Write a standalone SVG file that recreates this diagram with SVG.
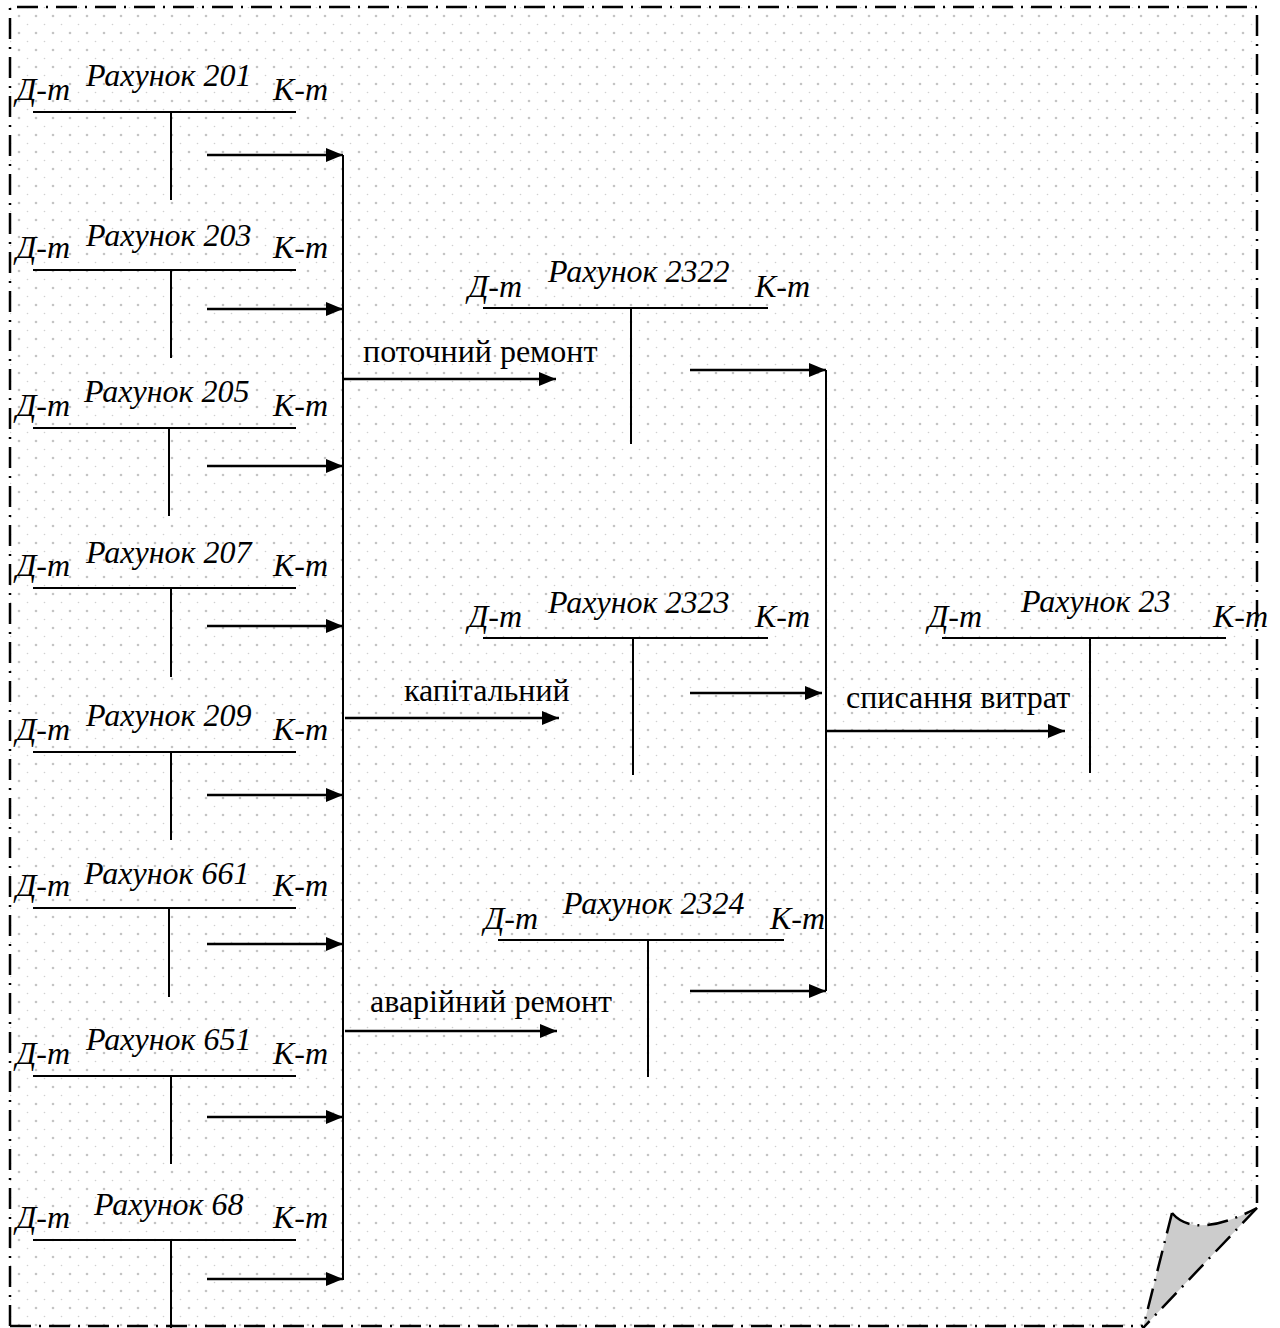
<svg xmlns="http://www.w3.org/2000/svg" width="1280" height="1328" viewBox="0 0 1280 1328">
  <style>
    .ln { stroke: #000; stroke-width: 2; fill: none; }
    .arr { stroke: #000; stroke-width: 2.5; fill: none; marker-end: url(#ah); }
    .acc { font-family: "Liberation Serif", "Times New Roman", serif; font-style: italic; font-size: 32px; fill: #000; }
    .lbl { font-family: "Liberation Serif", "Times New Roman", serif; font-size: 32px; fill: #000; }
    .frame { stroke: #000; stroke-width: 2.5; fill: none; stroke-dasharray: 21 8 2 8; }
  </style>
  <defs>
    <pattern id="dots" patternUnits="userSpaceOnUse" x="15" y="12" width="17" height="17">
      <circle cx="4" cy="4" r="1.3" fill="#c4c4c4"/>
      <circle cx="12.5" cy="12.5" r="0.8" fill="#d0d0d0"/>
    </pattern>
    <marker id="ah" markerUnits="userSpaceOnUse" markerWidth="18" markerHeight="14" refX="17" refY="7" orient="auto">
      <path d="M0,0 L17,7 L0,14 z" fill="#000"/>
    </marker>
  </defs>

  <!-- page background with dotted grid and curled corner -->
  <rect width="1280" height="1328" fill="#fff"/>
  <path d="M10,7 H1257 V1208 L1143,1328 H10 Z" fill="url(#dots)"/>
  <path d="M1172,1213 Q1195,1240 1257,1208 L1143,1328 Z" fill="#cccccc"/>
  <g id="frame">
    <path class="frame" d="M10,1326 V7 H1257 V1203"/>
    <path class="frame" d="M10,1326 H1143"/>
    <path class="frame" d="M1257,1208 L1143,1328"/>
    <path class="frame" d="M1172,1213 L1143,1328"/>
    <path class="frame" d="M1172,1213 Q1195,1240 1257,1208"/>
  </g>

  <!-- left column of T-accounts -->
  <g id="acc201">
    <text class="acc" x="16" y="100">Д-т</text>
    <text class="acc" x="86" y="86">Рахунок 201</text>
    <text class="acc" x="273" y="100">К-т</text>
    <path class="ln" d="M33,112 H296 M171,112 V200"/>
  </g>
  <g id="acc203">
    <text class="acc" x="16" y="258">Д-т</text>
    <text class="acc" x="86" y="246">Рахунок 203</text>
    <text class="acc" x="273" y="258">К-т</text>
    <path class="ln" d="M33,270 H296 M171,270 V358"/>
  </g>
  <g id="acc205">
    <text class="acc" x="16" y="416">Д-т</text>
    <text class="acc" x="84" y="402">Рахунок 205</text>
    <text class="acc" x="273" y="416">К-т</text>
    <path class="ln" d="M33,428 H296 M169,428 V516"/>
  </g>
  <g id="acc207">
    <text class="acc" x="16" y="576">Д-т</text>
    <text class="acc" x="86" y="563">Рахунок 207</text>
    <text class="acc" x="273" y="576">К-т</text>
    <path class="ln" d="M33,588 H296 M171,588 V677"/>
  </g>
  <g id="acc209">
    <text class="acc" x="16" y="740">Д-т</text>
    <text class="acc" x="86" y="726">Рахунок 209</text>
    <text class="acc" x="273" y="740">К-т</text>
    <path class="ln" d="M33,752 H296 M171,752 V840"/>
  </g>
  <g id="acc661">
    <text class="acc" x="16" y="896">Д-т</text>
    <text class="acc" x="84" y="884">Рахунок 661</text>
    <text class="acc" x="273" y="896">К-т</text>
    <path class="ln" d="M33,908 H296 M169,908 V997"/>
  </g>
  <g id="acc651">
    <text class="acc" x="16" y="1064">Д-т</text>
    <text class="acc" x="86" y="1050">Рахунок 651</text>
    <text class="acc" x="273" y="1064">К-т</text>
    <path class="ln" d="M33,1076 H296 M171,1076 V1164"/>
  </g>
  <g id="acc68">
    <text class="acc" x="16" y="1228">Д-т</text>
    <text class="acc" x="94" y="1215">Рахунок 68</text>
    <text class="acc" x="273" y="1228">К-т</text>
    <path class="ln" d="M33,1240 H296 M171,1240 V1328"/>
  </g>

  <!-- middle column of T-accounts -->
  <g id="acc2322">
    <text class="acc" x="468" y="297">Д-т</text>
    <text class="acc" x="548" y="282">Рахунок 2322</text>
    <text class="acc" x="755" y="297">К-т</text>
    <path class="ln" d="M483,308 H768 M631,308 V444"/>
  </g>
  <g id="acc2323">
    <text class="acc" x="468" y="627">Д-т</text>
    <text class="acc" x="548" y="613">Рахунок 2323</text>
    <text class="acc" x="755" y="627">К-т</text>
    <path class="ln" d="M483,638 H768 M633,638 V775"/>
  </g>
  <g id="acc2324">
    <text class="acc" x="484" y="929">Д-т</text>
    <text class="acc" x="563" y="914">Рахунок 2324</text>
    <text class="acc" x="770" y="929">К-т</text>
    <path class="ln" d="M498,940 H784 M648,940 V1077"/>
  </g>

  <!-- summary account -->
  <g id="acc23">
    <text class="acc" x="928" y="627">Д-т</text>
    <text class="acc" x="1021" y="612">Рахунок 23</text>
    <text class="acc" x="1213" y="627">К-т</text>
    <path class="ln" d="M942,638 H1226 M1090,638 V773"/>
  </g>

  <!-- flows between accounts -->
  <g id="connectors">
    <path class="ln" d="M343,155 V1280"/>
    <path class="arr" d="M207,155 H343"/>
    <path class="arr" d="M207,309 H343"/>
    <path class="arr" d="M207,466 H343"/>
    <path class="arr" d="M207,626 H343"/>
    <path class="arr" d="M207,795 H343"/>
    <path class="arr" d="M207,944 H343"/>
    <path class="arr" d="M207,1117 H343"/>
    <path class="arr" d="M207,1279 H343"/>

    <path class="arr" d="M343,379 H556"/>
    <path class="arr" d="M345,718 H559"/>
    <path class="arr" d="M345,1031 H557"/>
    <text class="lbl" x="363" y="362">поточний ремонт</text>
    <text class="lbl" x="404" y="701">капітальний</text>
    <text class="lbl" x="370" y="1012">аварійний ремонт</text>

    <path class="ln" d="M826,370 V991"/>
    <path class="arr" d="M690,370 H826"/>
    <path class="arr" d="M690,693 H822"/>
    <path class="arr" d="M690,991 H826"/>

    <path class="arr" d="M826,731 H1065"/>
    <text class="lbl" x="846" y="708">списання витрат</text>
  </g>
</svg>
